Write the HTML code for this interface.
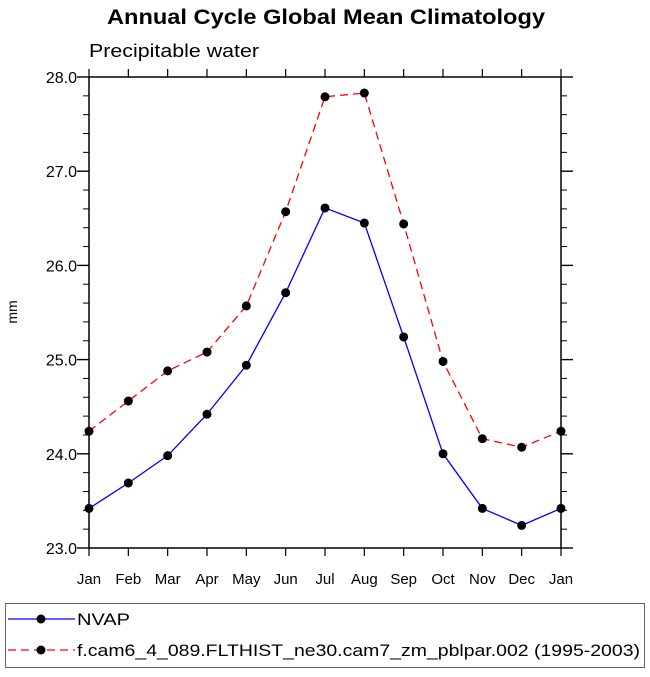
<!DOCTYPE html>
<html><head><style>body{margin:0;background:#fff}svg{font-family:"Liberation Sans",sans-serif}</style></head>
<body>
<svg width="650" height="672">
<text x="107" y="24" font-size="21" font-weight="bold" textLength="438" lengthAdjust="spacingAndGlyphs">Annual Cycle Global Mean Climatology</text>
<text x="89" y="57" font-size="18" textLength="170" lengthAdjust="spacingAndGlyphs">Precipitable water</text>
<text x="17" y="312" font-size="14" text-anchor="middle" transform="rotate(-90 17 312)">mm</text>
<g id="axes"></g>
<g id="series"></g>
<rect x="5.5" y="603.5" width="639" height="64" fill="none" stroke="#666"/>
<g>
<line x1="8" y1="619" x2="75" y2="619" stroke="#00f" stroke-width="1.3"/><circle cx="41" cy="619" r="4.5"/>
<text x="77" y="625" font-size="17" textLength="53" lengthAdjust="spacingAndGlyphs">NVAP</text></g>
<g>
<line x1="8" y1="650" x2="75" y2="650" stroke="#f00" stroke-width="1.3" stroke-dasharray="8,5"/><circle cx="41" cy="650" r="4.5"/>
<text x="77" y="656" font-size="17" textLength="563" lengthAdjust="spacingAndGlyphs">f.cam6_4_089.FLTHIST_ne30.cam7_zm_pblpar.002 (1995-2003)</text></g>
</svg>
<script>
const months=["Jan","Feb","Mar","Apr","May","Jun","Jul","Aug","Sep","Oct","Nov","Dec","Jan"];
const nvap=[23.42,23.69,23.98,24.42,24.94,25.71,26.61,26.45,25.24,24.0,23.42,23.24,23.42];
const model=[24.24,24.56,24.88,25.08,25.57,26.57,27.79,27.83,26.44,24.98,24.16,24.07,24.24];
const yTicks=[23,24,25,26,27,28];
const yLabels=["23.0","24.0","25.0","26.0","27.0","28.0"];
const NS="http://www.w3.org/2000/svg";
const L=89,R=561,T=77,B=548,ymin=23,ymax=28;
const xs=i=>L+(R-L)*i/(months.length-1);
const ys=v=>B-(v-ymin)/(ymax-ymin)*(B-T);
function mk(t,a,p){const e=document.createElementNS(NS,t);for(const k in a)e.setAttribute(k,a[k]);p.appendChild(e);return e;}
const ax=document.getElementById('axes');
const frame=mk('rect',{x:L,y:T,width:R-L,height:B-T,fill:'none',stroke:'#000','stroke-width':1.5},ax);


months.forEach((m,i)=>{const x=xs(i);
 mk('line',{x1:x,y1:B,x2:x,y2:B+8,stroke:'#000','stroke-width':1.2},ax);
 mk('line',{x1:x,y1:T,x2:x,y2:T-8,stroke:'#000','stroke-width':1.2},ax);
 const t=mk('text',{x:x,y:B+36,'font-size':15,'text-anchor':'middle'},ax);t.textContent=m;
 
 
});
for(let v=ymin;v<=ymax+1e-9;v+=0.2){const y=ys(v);const maj=Math.abs(v-Math.round(v))<1e-6;const len=maj?12:6;
 mk('line',{x1:L,y1:y,x2:L-len,y2:y,stroke:'#000','stroke-width':maj?1.4:1},ax);
 mk('line',{x1:R,y1:y,x2:R+len,y2:y,stroke:'#000','stroke-width':maj?1.4:1},ax);}
yTicks.forEach((v,i)=>{const t=mk('text',{x:L-12,y:ys(v)+6,'font-size':16,'text-anchor':'end'},ax);t.textContent=yLabels[i];
 
 });
const sg=document.getElementById('series');
function series(d,col,dash,name){
 const p=mk('polyline',{points:d.map((v,i)=>xs(i)+','+ys(v)).join(' '),fill:'none',stroke:col,'stroke-width':1.3,'stroke-dasharray':dash},sg);
 
 
 d.forEach((v,i)=>{const c=mk('circle',{cx:xs(i),cy:ys(v),r:4.5},sg);
  
  });
}
series(nvap,'#00f','none','nvap');
series(model,'#f00','8,5','model');
</script>
</body></html>
